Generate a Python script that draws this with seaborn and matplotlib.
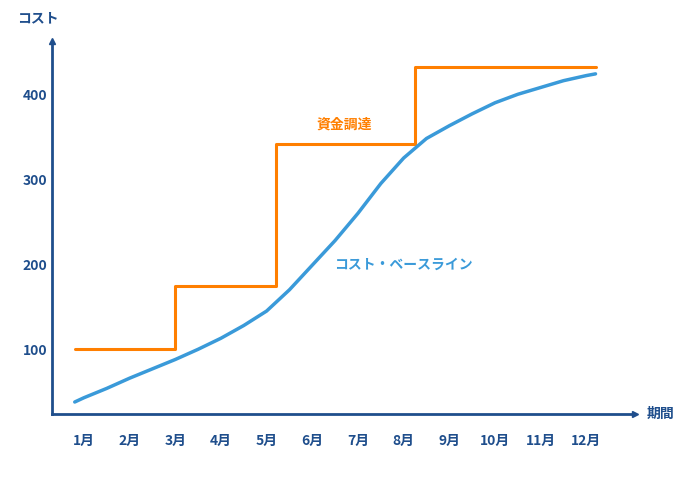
import matplotlib.pyplot as plt
import seaborn as sns
import numpy as np

sns.set_style('white')
plt.rcParams['font.family'] = ['Noto Sans CJK JP', 'DejaVu Sans']

months = ['1月', '2月', '3月', '4月', '5月', '6月', '7月', '8月', '9月', '10月', '11月', '12月']

# funding steps (month position, value)
fund_x = [0.8, 3.0, 3.0, 5.2, 5.2, 8.25, 8.25, 12.2]
fund_y = [100, 100, 175, 175, 342, 342, 432, 432]

# cost baseline
base_x = [0.8, 1, 1.5, 2, 2.5, 3, 3.5, 4, 4.5, 5, 5.5, 6, 6.5, 7, 7.5, 8, 8.5, 9, 9.5, 10, 10.5, 11, 11.5, 12, 12.2]
base_y = [38, 43, 54, 66, 77, 88, 100, 113, 128, 145, 170, 199, 228, 260, 295, 325, 348, 363, 377, 390, 400, 408, 416, 422, 424]

navy = '#1f4e8c'
orange = '#ff7f00'
blue = '#3a9ad9'

fig, ax = plt.subplots(figsize=(6.92, 4.79), dpi=100)
fig.subplots_adjust(left=0.075, right=0.918, bottom=0.135, top=0.915)

sns.lineplot(x=fund_x, y=fund_y, ax=ax, color=orange, linewidth=2.2, sort=False, estimator=None)
sns.lineplot(x=base_x, y=base_y, ax=ax, color=blue, linewidth=2.5, sort=False, estimator=None)

ax.set_xlim(0.3, 13.07)
ax.set_ylim(23.5, 463)
ax.set_xticks(range(1, 13))
ax.set_xticklabels(months)
ax.set_yticks([100, 200, 300, 400])
ax.tick_params(length=0, colors=navy, labelsize=10)
for lab in ax.get_xticklabels() + ax.get_yticklabels():
    lab.set_fontweight('bold')
ax.tick_params(axis='x', pad=14)

for s in ['top', 'right']:
    ax.spines[s].set_visible(False)
for s in ['left', 'bottom']:
    ax.spines[s].set_color(navy)
    ax.spines[s].set_linewidth(2)
ax.plot(1, 0, '>', color=navy, markersize=5, transform=ax.transAxes, clip_on=False)
ax.plot(0, 1, '^', color=navy, markersize=5, transform=ax.transAxes, clip_on=False)

ax.text(-0.06, 1.04, 'コスト', transform=ax.transAxes, color=navy, fontsize=10, fontweight='bold', ha='left', va='bottom')
ax.text(1.02, 0.0, '期間', transform=ax.transAxes, color=navy, fontsize=10, fontweight='bold', ha='left', va='center')
ax.text(6.7, 356, '資金調達', color=orange, fontsize=10, fontweight='bold', ha='center', va='bottom')
ax.text(8.0, 200, 'コスト・ベースライン', color=blue, fontsize=10, fontweight='bold', ha='center', va='center')

plt.savefig('out.png')
